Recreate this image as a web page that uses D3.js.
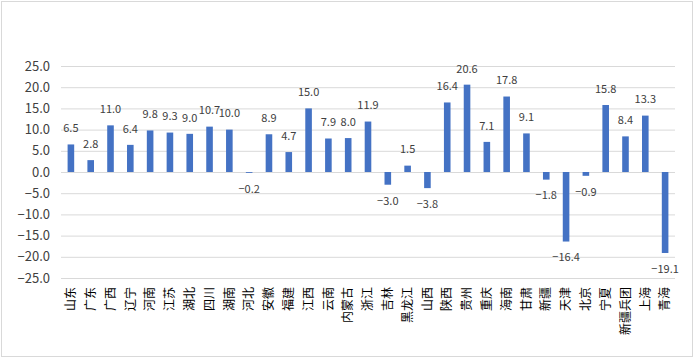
<!DOCTYPE html>
<html>
<head>
<meta charset="utf-8">
<script src="https://cdn.jsdelivr.net/npm/d3@7"></script>
<style>
  body { margin: 0; background: #fff; }
  svg { display: block; }
</style>
</head>
<body>
<div id="chart"></div>
<script>
  // data
  const regions = ['山东', '广东', '广西', '辽宁', '河南', '江苏', '湖北', '四川', '湖南', '河北',
    '安徽', '福建', '江西', '云南', '内蒙古', '浙江', '吉林', '黑龙江', '山西', '陕西',
    '贵州', '重庆', '海南', '甘肃', '新疆', '天津', '北京', '宁夏', '新疆兵团', '上海', '青海']
  const growth = [6.5, 2.8, 11.0, 6.4, 9.8, 9.3, 9.0, 10.7, 10.0, -0.2,
    8.9, 4.7, 15.0, 7.9, 8.0, 11.9, -3.0, 1.5, -3.8, 16.4,
    20.6, 7.1, 17.8, 9.1, -1.8, -16.4, -0.9, 15.8, 8.4, 13.3, -19.1]
  const yTicks = [25, 20, 15, 10, 5, 0, -5, -10, -15, -20, -25]

  // sizes
  const width = 694
  const height = 359
  const margin = { top: 66, right: 19, bottom: 81, left: 61 }

  const svg = d3.select('#chart')
    .append('svg')
    .attr('width', width)
    .attr('height', height)

  // outer frame
  svg.append('rect')
    .attr('x', 1.5).attr('y', 1.5)
    .attr('width', 691).attr('height', 355)
    .attr('fill', 'none')
    .attr('stroke', '#d9d9d9')

  const x = d3.scaleBand()
    .domain(regions)
    .range([margin.left, width - margin.right])
    .paddingInner(0.667)
    .paddingOuter(0.333)

  const y = d3.scaleLinear()
    .domain([-25, 25])
    .range([height - margin.bottom, margin.top])

  const fmt = d3.format('.1f')

  // gridlines + y labels
  const yAxis = svg.append('g')
    .attr('transform', `translate(${margin.left},0)`)
    .call(d3.axisLeft(y).tickValues(yTicks).tickFormat(fmt)
      .tickSize(-(width - margin.left - margin.right)).tickPadding(11))
  yAxis.select('.domain').remove()
  yAxis.selectAll('line').attr('stroke', '#d9d9d9')
  yAxis.selectAll('text')
    .attr('fill', '#404040')
    .style('font-family', '"Noto Sans CJK SC", sans-serif')
    .style('font-size', '13px')

  // bars
  svg.append('g')
    .selectAll('rect')
    .data(regions)
    .enter().append('rect')
    .attr('x', d => x(d))
    .attr('width', x.bandwidth())
    .attr('y', (d, i) => y(Math.max(0, growth[i])))
    .attr('height', (d, i) => Math.abs(y(growth[i]) - y(0)))
    .attr('fill', '#4472c4')

  // value labels
  svg.append('g')
    .selectAll('text')
    .data(regions)
    .enter().append('text')
    .attr('x', d => x(d) + x.bandwidth() / 2)
    .attr('y', (d, i) => growth[i] >= 0 ? y(growth[i]) - 16 : y(growth[i]) + 16)
    .attr('dy', '0.35em')
    .attr('text-anchor', 'middle')
    .attr('fill', '#404040')
    .style('font-family', '"Noto Sans CJK SC", sans-serif')
    .style('font-size', '11px')
    .text((d, i) => fmt(growth[i]))

  // category labels, rotated
  svg.append('g')
    .selectAll('text')
    .data(regions)
    .enter().append('text')
    .attr('transform', d => `translate(${x(d) + x.bandwidth() / 2},${height - margin.bottom + 9}) rotate(-90)`)
    .attr('dy', '0.35em')
    .attr('text-anchor', 'end')
    .attr('fill', '#000')
    .style('font-family', '"Noto Sans CJK SC", sans-serif')
    .style('font-size', '12px')
    .text(d => d)
</script>
</body>
</html>
